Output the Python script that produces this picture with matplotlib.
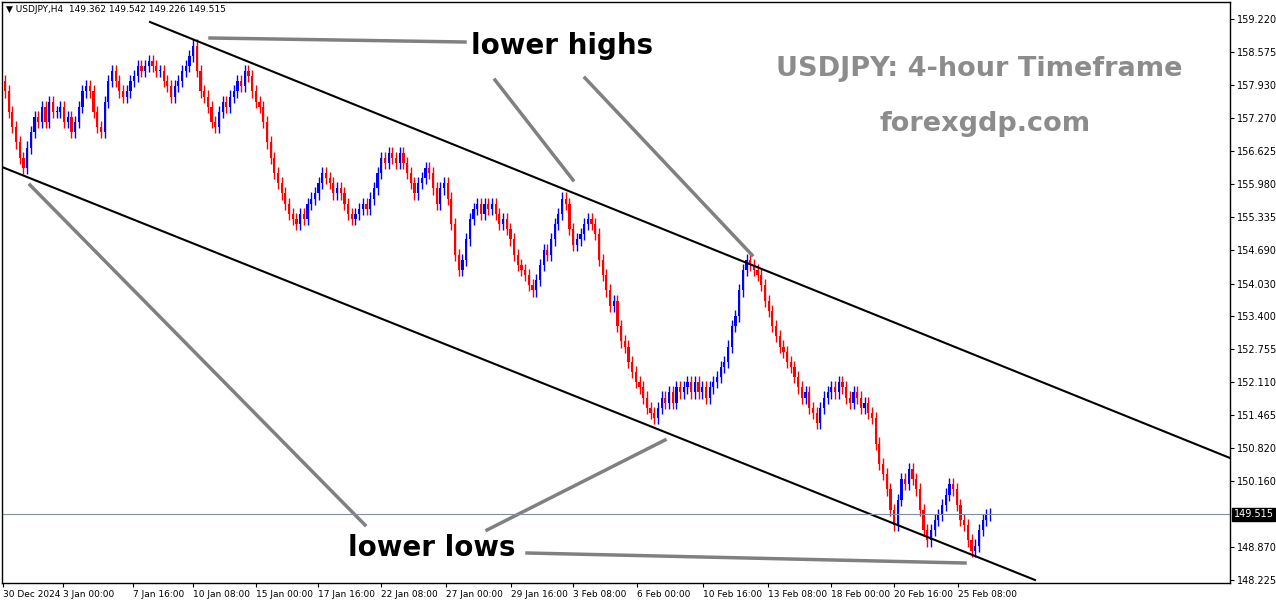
import matplotlib
matplotlib.use("Agg")
import matplotlib.pyplot as plt

closes = [
    157.8, 157.4, 157.1, 156.8, 156.5, 156.3, 156.7, 157.0, 157.3, 157.2,
    157.5, 157.2, 157.6, 157.4, 157.4, 157.5, 157.2, 157.3, 157.0, 157.2,
    157.5, 157.8, 157.9, 157.8, 157.4, 157.1, 157.0, 157.6, 158.0, 158.2,
    158.0, 157.8, 157.7, 157.8, 158.0, 158.1, 158.3, 158.2, 158.3, 158.4,
    158.3, 158.2, 158.2, 158.0, 157.9, 157.7, 157.9, 158.0, 158.2, 158.3,
    158.5, 158.7, 158.2, 157.8, 157.7, 157.5, 157.2, 157.1, 157.4, 157.6,
    157.5, 157.7, 157.8, 158.0, 157.9, 158.2, 158.1, 157.8, 157.6, 157.5,
    157.2, 156.8, 156.5, 156.2, 156.0, 155.8, 155.6, 155.4, 155.3, 155.2,
    155.4, 155.3, 155.6, 155.7, 155.8, 156.0, 156.2, 156.1, 156.0, 155.8,
    155.9, 155.8, 155.6, 155.4, 155.3, 155.4, 155.5, 155.6, 155.5, 155.7,
    155.9, 156.2, 156.5, 156.4, 156.6, 156.5, 156.4, 156.6, 156.4, 156.2,
    156.0, 155.8, 156.0, 156.1, 156.3, 156.2, 155.9, 155.6, 155.9, 156.0,
    155.7, 155.2, 154.6, 154.3, 154.5, 154.9, 155.3, 155.5, 155.6, 155.4,
    155.6, 155.5, 155.6, 155.4, 155.2, 155.3, 155.1, 154.9, 154.6, 154.4,
    154.3, 154.2, 154.0, 153.9, 154.1, 154.4, 154.7, 154.6, 154.9, 155.2,
    155.4, 155.7, 155.6, 155.1, 154.8, 154.9, 155.0, 155.2, 155.3, 155.2,
    155.0, 154.5, 154.2, 153.9, 153.6, 153.7, 153.2, 152.9, 152.8, 152.5,
    152.3, 152.1, 152.0, 151.8, 151.6, 151.5, 151.4, 151.6, 151.8, 151.7,
    151.9, 151.7, 152.0, 151.9, 152.0, 152.1, 151.9, 152.1, 151.9, 152.0,
    151.8, 152.0, 152.1, 152.2, 152.4, 152.5, 152.8, 153.2, 153.4, 153.9,
    154.3, 154.5, 154.4, 154.3, 154.2, 154.0, 153.7, 153.5, 153.2, 153.0,
    152.8, 152.7, 152.5, 152.4, 152.2, 152.0, 151.8, 151.9, 151.6, 151.5,
    151.3, 151.6, 151.8, 151.9, 152.0, 151.9, 152.1, 152.0, 151.8, 151.7,
    151.9, 151.8, 151.6, 151.7, 151.5, 151.4, 150.9, 150.5, 150.3, 150.0,
    149.6, 149.3, 149.8, 150.2, 150.1, 150.4, 150.2, 150.0, 149.6, 149.2,
    149.0, 149.2, 149.4, 149.5, 149.7, 149.9, 150.1, 150.0, 149.7, 149.4,
    149.3, 149.0, 148.8, 148.9, 149.2, 149.4, 149.5, 149.515,
]
first_open = 158.0
wick = 0.12

price_ticks = [159.220, 158.575, 157.930, 157.270, 156.625, 155.980, 155.335,
               154.690, 154.030, 153.400, 152.755, 152.110, 151.465, 150.820,
               150.160, 148.870, 148.225]
date_labels = ["30 Dec 2024", "3 Jan 00:00", "7 Jan 16:00", "10 Jan 08:00",
               "15 Jan 00:00", "17 Jan 16:00", "22 Jan 08:00", "27 Jan 00:00",
               "29 Jan 16:00", "3 Feb 08:00", "6 Feb 00:00", "10 Feb 16:00",
               "13 Feb 08:00", "18 Feb 00:00", "20 Feb 16:00", "25 Feb 08:00"]
# left edge of each date label in the original, in pixels
date_px = [3, 63, 133, 193, 256, 318, 381, 446, 511, 573, 637, 703, 768, 831,
           894, 958]
last_price = 149.515

W, H = 1276, 604
L, R, T, B = 2, 1230, 2, 583
ppp = (159.22 - 148.225) / 561
px0 = 5
bpx = (990 - px0) / (len(closes) - 1)

def to_data(x, y):
    return (x - px0) / bpx, 159.22 - (y - 19) * ppp

fig = plt.figure(figsize=(W / 100, H / 100), dpi=100)
ax = fig.add_axes([L / W, 1 - B / H, (R - L) / W, (B - T) / H])
x0, y0 = to_data(L, B)
x1, y1 = to_data(R, T)
ax.set_xlim(x0, x1)
ax.set_ylim(y0, y1)

opens = [first_open] + closes[:-1]
for i, (o, c) in enumerate(zip(opens, closes)):
    col = "#0000ff" if c >= o else "#ff0000"
    ax.vlines(i, min(o, c) - wick, max(o, c) + wick, color=col, lw=1)
    ax.bar(i, max(abs(c - o), 0.02), bottom=min(o, c), width=0.6, color=col)

# channel lines
for (xa, ya), (xb, yb) in [((150, 22), (1230, 458)), ((2, 167), (1035, 580))]:
    a, b = to_data(xa, ya), to_data(xb, yb)
    ax.plot([a[0], b[0]], [a[1], b[1]], color="black", lw=1.5)

# annotation pointers
grey = "#808080"
for (xa, ya), (xb, yb) in [((210, 38), (465, 42)), ((495, 80), (573, 180)),
                           ((585, 78), (752, 255)), ((30, 185), (365, 525)),
                           ((487, 530), (665, 440)), ((527, 553), (965, 563))]:
    a, b = to_data(xa, ya), to_data(xb, yb)
    ax.plot([a[0], b[0]], [a[1], b[1]], color=grey, lw=2.5)

ax.axhline(last_price, color="#8090a0", lw=0.8)

ax.text(*to_data(562, 46), "lower highs", fontsize=20, fontweight="bold",
        ha="center", va="center")
ax.text(*to_data(432, 548), "lower lows", fontsize=20, fontweight="bold",
        ha="center", va="center")
ax.text(*to_data(979, 69), "USDJPY: 4-hour Timeframe", fontsize=19.5,
        fontweight="bold", color="#8c8c8c", ha="center", va="center")
ax.text(*to_data(985, 124), "forexgdp.com", fontsize=19.5,
        fontweight="bold", color="#8c8c8c", ha="center", va="center")
ax.text(0.003, 0.995, "\u25bc USDJPY,H4  149.362 149.542 149.226 149.515",
        transform=ax.transAxes, fontsize=6.5, va="top", ha="left")

ax.yaxis.tick_right()
ax.set_yticks(price_ticks)
ax.set_yticklabels([f"{p:.3f}" for p in price_ticks], fontsize=7)
ax.text(1.003, last_price, f"{last_price:.3f}", transform=ax.get_yaxis_transform(),
        fontsize=7, color="white", va="center", ha="left",
        bbox=dict(facecolor="black", edgecolor="black", pad=1))
ax.set_xticks([to_data(p, 0)[0] for p in date_px])
ax.set_xticklabels(date_labels, fontsize=6.5, ha="left")
ax.tick_params(length=3, width=0.8, pad=2)
for s in ax.spines.values():
    s.set_linewidth(1)

fig.savefig("out.png", dpi=100)
